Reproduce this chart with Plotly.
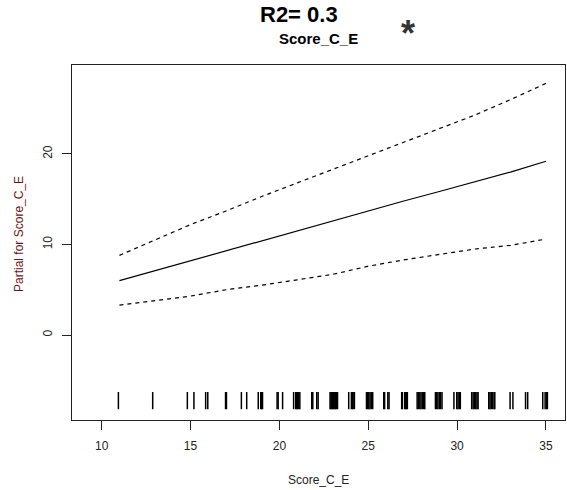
import plotly.graph_objects as go

# Fitted partial effect of Score_C_E with +/- 2 SE band
score = [11, 13, 15, 17, 19, 21, 23, 25, 27, 29, 31, 33, 35]
fit = [6.0, 7.1, 8.2, 9.35, 10.45, 11.55, 12.6, 13.7, 14.8, 15.85, 16.9, 18.0, 19.2]
upper = [8.8, 10.5, 12.2, 13.7, 15.3, 16.8, 18.3, 19.8, 21.3, 22.8, 24.3, 26.0, 27.8]
lower = [3.3, 3.8, 4.3, 5.0, 5.5, 6.1, 6.7, 7.6, 8.3, 8.9, 9.5, 9.9, 10.6]

# Observed (jittered) Score_C_E values shown as a rug
rug = [10.94, 12.87, 14.82, 15.19, 15.85, 15.97, 16.97, 17.02, 17.86, 18.16,
       18.81, 18.95, 19.0, 19.05, 19.87, 19.93, 20.18,
       20.8, 20.92, 20.97, 21.02, 21.08, 21.15,
       21.82, 21.88, 22.1, 22.18,
       22.85, 22.9, 22.95, 23.0, 23.05, 23.1, 23.15, 23.2, 23.27,
       23.9, 24.05, 24.1, 24.15, 24.22,
       24.9, 24.97, 25.03, 25.1, 25.17, 25.25,
       25.87, 25.92, 26.1, 26.17,
       26.88, 26.92, 27.05, 27.1, 27.15, 27.2,
       27.75, 27.82, 27.9, 27.97, 28.05, 28.12, 28.18,
       28.78, 28.85, 28.92, 29.0, 29.07, 29.15,
       29.82, 29.98, 30.05, 30.12, 30.18,
       30.82, 30.9, 30.97, 31.05, 31.12, 31.18,
       31.78, 31.85, 31.92, 32.0, 32.08, 32.12,
       32.98, 33.14, 33.85, 33.97,
       34.82, 34.95, 35.02, 35.08]
rug_top, rug_bottom = -6.3, -8.2

x_ticks = [10, 15, 20, 25, 30, 35]
y_ticks = [0, 10, 20]

FONT = "Liberation Sans, Arial, sans-serif"

fig = go.Figure()

fig.add_trace(go.Scatter(x=score, y=fit, mode="lines",
                         line=dict(color="black", width=1.2), showlegend=False))
for band in (upper, lower):
    fig.add_trace(go.Scatter(x=score, y=band, mode="lines",
                             line=dict(color="black", width=1.2, dash="4px,4px"),
                             showlegend=False))

rx, ry = [], []
for v in rug:
    rx += [v, v, None]
    ry += [rug_top, rug_bottom, None]
fig.add_trace(go.Scatter(x=rx, y=ry, mode="lines",
                         line=dict(color="black", width=1.5), showlegend=False))

fig.update_layout(
    width=567, height=490,
    margin=dict(l=72, r=2, t=65, b=70),
    paper_bgcolor="white", plot_bgcolor="white",
    font=dict(family=FONT, size=12, color="#222222"),
    xaxis=dict(range=[8.33, 36.07], tickvals=x_ticks, ticks="outside", ticklen=9,
               tickcolor="#222222", showline=True, mirror=True, linecolor="#222222",
               linewidth=1, showgrid=False, zeroline=False, ticklabelstandoff=6,
               tickfont=dict(size=12, color="#222222")),
    yaxis=dict(range=[-9.39, 29.83], tickvals=y_ticks, ticks="outside", ticklen=9,
               tickcolor="#222222", showline=True, mirror=True, linecolor="#222222",
               linewidth=1, showgrid=False, zeroline=False, tickangle=-90,
               ticklabelstandoff=5,
               tickfont=dict(size=12, color="#222222")),
    annotations=[
        dict(text="<b>R2= 0.3</b>", x=0.46, y=1.1423, xref="paper", yref="paper",
             showarrow=False, font=dict(size=22, color="black"),
             xanchor="center", yanchor="middle"),
        dict(text="<b>Score_C_E</b>", x=0.499, y=1.076, xref="paper", yref="paper",
             showarrow=False, font=dict(size=15, color="black"),
             xanchor="center", yanchor="middle"),
        dict(text="<b>*</b>", x=0.6815, y=1.09, xref="paper", yref="paper",
             showarrow=False, font=dict(size=36, color="#333333"),
             xanchor="center", yanchor="middle"),
        dict(text="Partial for Score_C_E", x=-0.1075, y=0.524, xref="paper", yref="paper",
             showarrow=False, textangle=-90, font=dict(size=12, color="#6b1414"),
             xanchor="center", yanchor="middle"),
        dict(text="Score_C_E", x=0.499, y=-0.169, xref="paper", yref="paper",
             showarrow=False, font=dict(size=12, color="#222222"),
             xanchor="center", yanchor="middle"),
    ],
)

fig.write_html("out.html")
